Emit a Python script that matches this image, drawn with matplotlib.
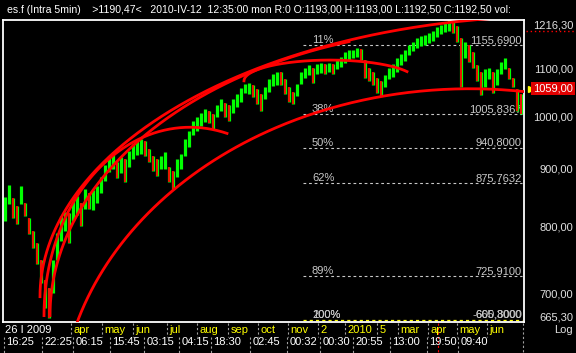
import numpy as np
import matplotlib
matplotlib.use("Agg")
import matplotlib.pyplot as plt
from matplotlib.transforms import blended_transform_factory

plt.rcParams['font.family'] = ['Liberation Sans', 'DejaVu Sans']
plt.rcParams['font.size'] = 8

# es.f bars (high / low), one bar every few candles
highs = [852, 873, 849, 837, 870, 841, 816, 795, 776, 750,
         721, 709, 750, 792, 819, 827, 824, 844, 854, 841,
         866, 859, 863, 870, 887, 909, 925, 933, 914, 923,
         920, 934, 948, 953, 957, 953, 938, 925, 920, 925,
         933, 905, 898, 920, 929, 957, 972, 992, 1000, 1008,
         1016, 1012, 1006, 1024, 1037, 1030, 1024, 1037, 1047, 1060,
         1070, 1072, 1068, 1058, 1047, 1062, 1079, 1092, 1096, 1096,
         1079, 1062, 1053, 1070, 1096, 1105, 1110, 1105, 1114, 1116,
         1114, 1116, 1114, 1123, 1130, 1141, 1146, 1146, 1150, 1148,
         1123, 1105, 1096, 1083, 1075, 1088, 1105, 1114, 1127, 1136,
         1146, 1157, 1164, 1173, 1178, 1180, 1185, 1190, 1200, 1204,
         1212, 1216, 1214, 1202, 1173, 1164, 1157, 1141, 1112, 1096,
         1101, 1105, 1096, 1101, 1118, 1127, 1105, 1083, 1058, 1047]
lows = [811, 839, 816, 806, 839, 819, 790, 768, 744, 716,
        681, 668, 702, 750, 779, 795, 776, 812, 821, 804,
        832, 832, 829, 842, 859, 880, 896, 901, 884, 894,
        878, 905, 920, 927, 929, 925, 914, 898, 889, 901,
        901, 877, 866, 887, 901, 925, 942, 965, 972, 982,
        990, 988, 976, 1000, 1012, 1000, 992, 1008, 1020, 1032,
        1049, 1047, 1041, 1028, 1012, 1037, 1053, 1064, 1068, 1066,
        1047, 1032, 1026, 1043, 1070, 1083, 1088, 1072, 1092, 1094,
        1092, 1096, 1092, 1101, 1107, 1116, 1123, 1127, 1130, 1123,
        1083, 1075, 1066, 1051, 1043, 1062, 1079, 1085, 1096, 1110,
        1121, 1134, 1143, 1150, 1155, 1157, 1162, 1166, 1176, 1183,
        1188, 1190, 1185, 1164, 1062, 1127, 1118, 1105, 1075, 1045,
        1062, 1079, 1049, 1066, 1090, 1101, 1079, 1062, 1012, 1006]

fib_pct = ["11%", "38%", "50%", "62%", "89%"]
fib_price = [1155.69, 1005.8367, 940.80, 875.7632, 725.91]
fib_text = ["1155,6900", "1005,8367", "940,8000", "875,7632", "725,9100"]
low_price = 665.30
high_price = 1216.30
last_price = 1059.00
cursor_price = 1190.47
axis_prices = [1100, 1000, 900, 800, 700]
axis_text = ["1100,00", "1000,00", "900,00", "800,00", "700,00"]

# fib arcs: start bar/price (left end), top bar/price, last bar drawn
arc_start_bar = [8.75, 11.25, 9.75, 59.75, 13.75]
arc_start_price = [696.6, 670.6, 670.6, 1076.0, 548.0]
arc_top_bar = [138.75, 118.75, 46.25, 81.25, 116.25]
arc_top_price = [1226.0, 1197.0, 980.0, 1122.0, 1059.0]
arc_end_bar = [130, 86, 55.5, 100.5, 130]

month_bar = [16.5, 24.25, 32, 40.5, 48, 55.75, 63.25, 70.75, 78.25, 85,
             93, 98.25, 105.75, 113, 120.5]
month_lbl = ["apr", "may", "jun", "jul", "aug", "sep", "oct", "nov", "2", "2010",
             "5", "mar", "apr", "may", "jun"]
time_bar = [-0.25, 9.25, 17, 26.25, 34.75, 43.5, 51.5, 61.25, 70.5, 78.75,
            87, 96.25, 105.5, 113.25]
time_lbl = ["16:25", "22:25", "06:15", "15:45", "03:15", "04:15", "18:30", "02:45",
            "00:32", "00:30", "20:55", "13:00", "19:50", "09:40"]
cursor_bar = 108.25

header = ("es.f (Intra 5min)    >1190,47<   2010-IV-12  12:35:00 mon R:0 O:1193,00 "
          "H:1193,00 L:1192,50 C:1192,50 vol:")

W, H = 576, 353
fig = plt.figure(figsize=(W / 100, H / 100), dpi=100, facecolor='black')
ax = fig.add_axes([3 / W, 31 / H, 521 / W, 302 / H])
ax.set_facecolor('black')
ax.set_yscale('log')
ax.set_xlim(-0.5, 129.75)
ax.set_ylim(662, high_price)
ax.tick_params(which='both', left=False, labelleft=False, bottom=False, labelbottom=False)
ax.yaxis.set_minor_locator(matplotlib.ticker.NullLocator())
for s in ax.spines.values():
    s.set_color('white')
    s.set_linewidth(1.3)

# price bars
hi = np.array(highs, float)
lo = np.array(lows, float)
x = np.arange(len(hi))
mid = (hi + lo) / 2
down = np.r_[False, mid[1:] < mid[:-1]]
ax.vlines(x, lo, hi, color='#00ff00', lw=2.3, zorder=2)
ax.vlines(x[down], lo[down], hi[down], color='#ff0000', lw=1.3, zorder=2)

# arcs
for sb, sp, tb, tp, eb in zip(arc_start_bar, arc_start_price, arc_top_bar,
                              arc_top_price, arc_end_bar):
    a = tb - sb
    t_end = np.arccos(np.clip((eb - tb) / a, -1, 1))
    t = np.linspace(np.pi, t_end, 300)
    xs = tb + a * np.cos(t)
    ys = np.exp(np.log(sp) + (np.log(tp) - np.log(sp)) * np.sin(t))
    ax.plot(xs, ys, color='#ff0000', lw=2.0, zorder=3)

# fib levels
gray = '#c8c8c8'
x0, x1 = 74.5, 129.25
for p, pct, txt in zip(fib_price, fib_pct, fib_text):
    ax.plot([x0, x1], [p, p], color=gray, lw=0.8, ls=(0, (2.5, 2.5)), zorder=1)
    ax.text(76.75, p, pct, color=gray, ha='left', va='bottom', zorder=1)
    ax.text(x1, p, txt, color=gray, ha='right', va='bottom', zorder=1)
ax.plot([x0, x1], [low_price, low_price], color='#ffff00', lw=0.9, ls=(0, (2.5, 2.5)), zorder=1)
for t in ["100%", "200%"]:
    ax.text(76.75, low_price, t, color=gray, ha='left', va='bottom', zorder=1)
for t in ["665,3000", "-600,8000"]:
    ax.text(x1, low_price, t, color=gray, ha='right', va='bottom', zorder=1)

# right price axis
rt = blended_transform_factory(fig.transFigure, ax.transData)
lab = '#e0e0e0'
rx = 573 / W
for p, t in zip(axis_prices, axis_text):
    ax.text(rx, p, t, transform=rt, color=lab, ha='right', va='center')
ax.text(rx, high_price, "1216,30", transform=rt, color=lab, ha='right', va='top')
ax.text(rx, 662, "665,30", transform=rt, color=lab, ha='right', va='bottom')
ax.text(rx, last_price, "1059,00", transform=rt, color='white', ha='right', va='center',
        bbox=dict(boxstyle='square,pad=0.15', fc='#e00000', ec='none'))
ax.plot([531 / W], [last_price], transform=rt, marker='>', color='#ffff00', ms=5,
        clip_on=False)
ax.plot([526 / W, 1.0], [cursor_price, cursor_price], transform=rt, color='#ff0000',
        lw=1, ls=(0, (1, 2)), clip_on=False)
fig.text(rx, 1 - 330 / H, "Log", color=lab, ha='right', va='center')

# time axis
bt = blended_transform_factory(ax.transData, fig.transFigure)
sep = '#a0a0a0'
y1, y2 = 1 - 330 / H, 1 - 342 / H
ax.text(0, y1, "26 I 2009", transform=bt, color='white', ha='left', va='center')
for b, t in zip(month_bar, month_lbl):
    ax.text(b + 0.6, y1, t, transform=bt, color='#ffff00', ha='left', va='center')
    ax.plot([b, b], [1 - 323 / H, 1 - 337 / H], transform=bt, color=sep, lw=0.8,
            ls=(0, (2, 2)), clip_on=False)
ax.plot([129.5, 129.5], [1 - 323 / H, 0], transform=bt, color=sep, lw=0.8,
        ls=(0, (2, 2)), clip_on=False)
for b, t in zip(time_bar, time_lbl):
    ax.text(b + 0.6, y2, t, transform=bt, color='white', ha='left', va='center')
    ax.plot([b, b], [1 - 337 / H, 0], transform=bt, color=sep, lw=0.8,
            ls=(0, (2, 2)), clip_on=False)
ax.plot([cursor_bar, cursor_bar], [1 - 323 / H, 0], transform=bt, color='#ff0000',
        lw=0.8, ls=(0, (2, 2)), clip_on=False)

fig.text(7 / W, 1 - 10 / H, header, color='white', ha='left', va='center', fontsize=7.6)

fig.savefig("out.png", dpi=100, facecolor='black')
